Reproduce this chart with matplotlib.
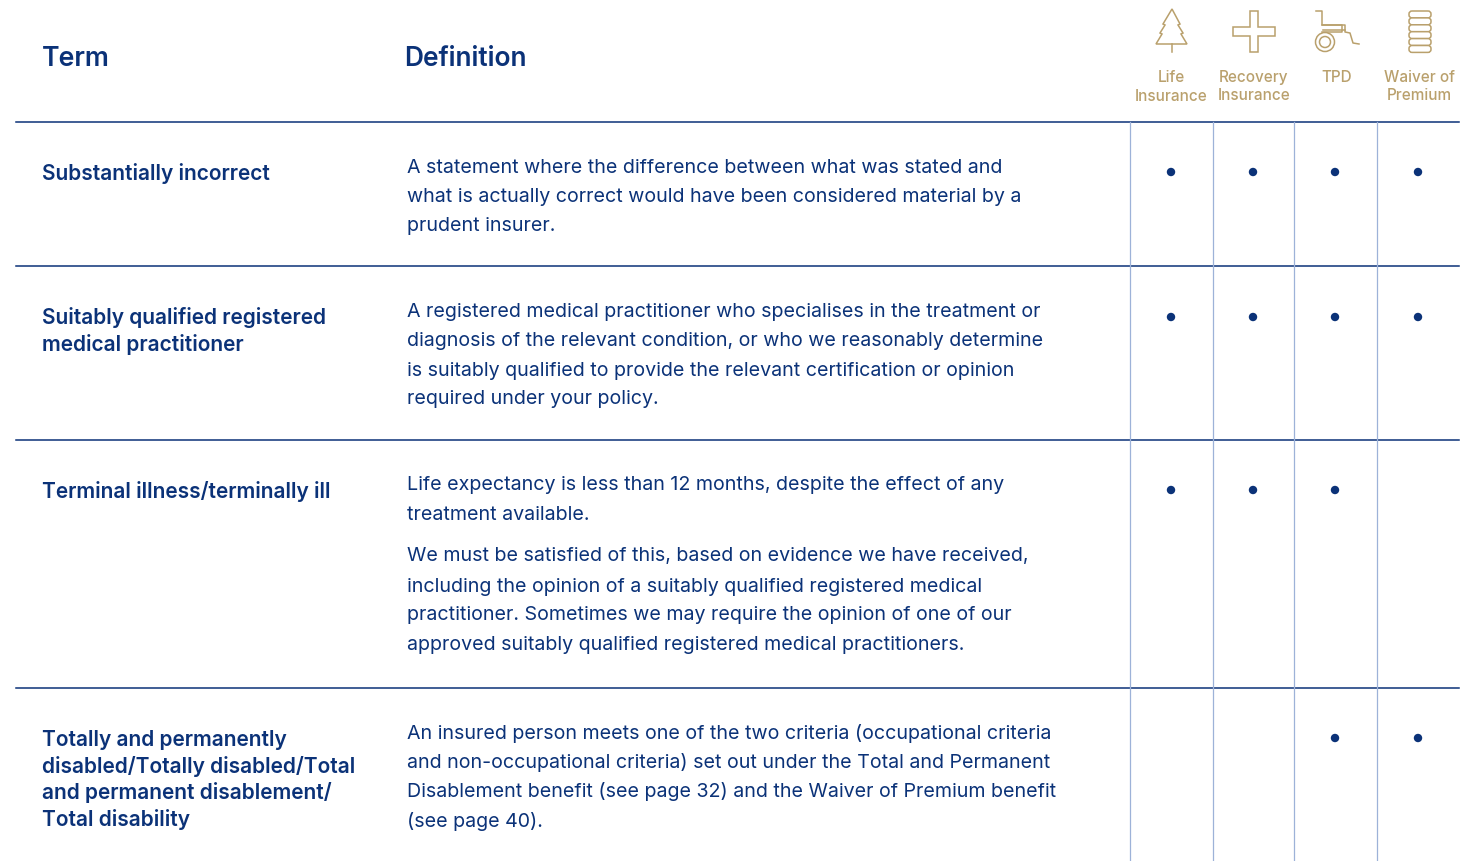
import matplotlib
matplotlib.use('Agg')
import matplotlib.pyplot as plt
from matplotlib.patches import Circle, Polygon, FancyBboxPatch

NAVY = '#0b3278'
GOLD = '#b9a06c'
BLUE = '#9db2d8'

plt.rcParams['font.family'] = ['Inter', 'DejaVu Sans']

# Table content
terms = [
    ['Substantially incorrect'],
    ['Suitably qualified registered', 'medical practitioner'],
    ['Terminal illness/terminally ill'],
    ['Totally and permanently', 'disabled/Totally disabled/Total', 'and permanent disablement/', 'Total disability'],
]
term_y = [
    [172],
    [316, 343],
    [490],
    [738, 765, 791, 818],
]
definitions = [
    ['A statement where the difference between what was stated and',
     'what is actually correct would have been considered material by a',
     'prudent insurer.'],
    ['A registered medical practitioner who specialises in the treatment or',
     'diagnosis of the relevant condition, or who we reasonably determine',
     'is suitably qualified to provide the relevant certification or opinion',
     'required under your policy.'],
    ['Life expectancy is less than 12 months, despite the effect of any',
     'treatment available.',
     'We must be satisfied of this, based on evidence we have received,',
     'including the opinion of a suitably qualified registered medical',
     'practitioner. Sometimes we may require the opinion of one of our',
     'approved suitably qualified registered medical practitioners.'],
    ['An insured person meets one of the two criteria (occupational criteria',
     'and non-occupational criteria) set out under the Total and Permanent',
     'Disablement benefit (see page 32) and the Waiver of Premium benefit',
     '(see page 40).'],
]
def_y = [
    [166, 195, 224],
    [310, 339, 369, 398],
    [483, 513, 555, 585, 614, 644],
    [732, 761, 790, 820],
]
benefits = [['Life', 'Insurance'], ['Recovery', 'Insurance'], ['TPD'], ['Waiver of', 'Premium']]
benefit_x = [1171, 1254, 1337, 1419]
benefit_label_y = [[76, 95], [76, 94], [76], [76, 94]]
dot_x = [1171, 1253, 1335, 1418]
dot_y = [172, 317, 490, 738]
cover = [
    [1, 1, 1, 1],
    [1, 1, 1, 1],
    [1, 1, 1, 0],
    [0, 0, 1, 1],
]
row_lines = [122, 266, 440, 688]
col_lines = [1129.5, 1212.5, 1293.5, 1376.5]

fig = plt.figure(figsize=(14.75, 8.62), dpi=100)
ax = fig.add_axes([0, 0, 1, 1])
ax.set_xlim(0, 1475)
ax.set_ylim(861, -1)
ax.axis('off')

# Grid lines
for y in row_lines:
    ax.plot([15.5, 1459], [y, y], color=NAVY, lw=1.1)
for x in col_lines:
    ax.plot([x, x], [122, 862], color=BLUE, lw=0.9)

# Headers
ax.text(41.5, 58, 'Term', color=NAVY, fontsize=19.2, fontweight='semibold', va='center')
ax.text(404.5, 58, 'Definition', color=NAVY, fontsize=18.9, fontweight='semibold', va='center')

for lines, ys in zip(terms, term_y):
    for line, y in zip(lines, ys):
        ax.text(41.5, y + 0.5, line, color=NAVY, fontsize=15.05, fontweight='semibold', va='center')

for lines, ys in zip(definitions, def_y):
    for line, y in zip(lines, ys):
        ax.text(407, y + 0.5, line, color=NAVY, fontsize=14.15, va='center')

for x, lines, ys in zip(benefit_x, benefits, benefit_label_y):
    for line, y in zip(lines, ys):
        ax.text(x, y, line, color=GOLD, fontsize=11, fontweight='medium', ha='center', va='center')

# Dots
for row, y in zip(cover, dot_y):
    for on, x in zip(row, dot_x):
        if on:
            ax.add_patch(Circle((x, y), 3.5, color=NAVY))

# Icons
lw = 1.1
# tree
ax.add_patch(Polygon([(1172, 9), (1180, 24), (1178, 25), (1183, 33), (1181, 34), (1187, 44),
                      (1156, 44), (1162, 34), (1160, 33), (1165, 25), (1163, 24)],
                     fill=False, ec=GOLD, lw=lw))
ax.plot([1172, 1172], [44, 52], color=GOLD, lw=lw)
# cross
ax.add_patch(Polygon([(1250, 11), (1258, 11), (1258, 27), (1275, 27), (1275, 36), (1258, 36),
                      (1258, 52), (1250, 52), (1250, 36), (1233, 36), (1233, 27), (1250, 27)],
                     fill=False, ec=GOLD, lw=lw))
# wheelchair
ax.add_patch(Circle((1325, 42), 9.5, fill=False, ec=GOLD, lw=lw))
ax.add_patch(Circle((1325, 42), 5.5, fill=False, ec=GOLD, lw=lw))
ax.plot([1316, 1322, 1322, 1345, 1345, 1350, 1353, 1359],
        [11, 11, 25, 25, 32, 33, 43, 44], color=GOLD, lw=lw)
ax.plot([1322, 1342, 1342, 1322], [25, 25, 32, 32], color=GOLD, lw=lw)
ax.plot([1323, 1345], [30, 30], color=GOLD, lw=lw)
# coins
for i in range(6):
    top = 11 + i * 6.9
    ax.add_patch(FancyBboxPatch((1412, top + 3), 16, 0.9, boxstyle='round,pad=3,rounding_size=3',
                                fc='white', ec=GOLD, lw=lw))

fig.savefig('out.png', dpi=100)
